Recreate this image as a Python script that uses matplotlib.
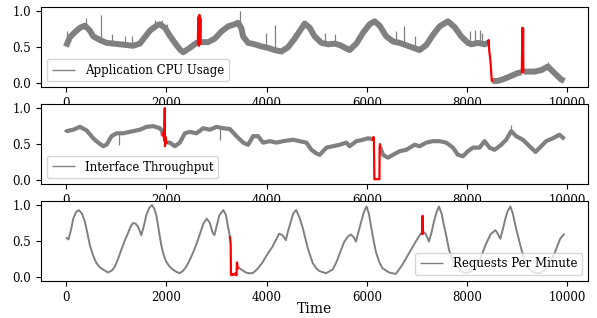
import numpy as np
import matplotlib
matplotlib.use("Agg")
import matplotlib.pyplot as plt

plt.rcParams['font.family'] = ['DejaVu Serif']

# ---------------- Application CPU Usage ----------------
cpu_t = [0, 80, 180, 279, 378, 478, 545, 677, 810, 942, 1076, 1208, 1341, 1474, 1573, 1673, 1806, 1873,
         1973, 2072, 2171, 2271, 2337, 2470, 2603,
         2703, 2835, 2968, 3101, 3234, 3367, 3433, 3500, 3532, 3632, 3765, 3898, 4030, 4163, 4296, 4429,
         4562, 4695, 4761, 4861, 4960, 5093, 5226, 5359, 5458, 5657, 5790, 5923, 6056, 6155, 6255, 6388,
         6521, 6653, 6853, 7052, 7185, 7317, 7450, 7616, 7749, 7882, 8015, 8081, 8214, 8347, 8415,
         8546, 8612, 8745, 8878, 9011, 9080,
         9210, 9343, 9476, 9608, 9741, 9874, 9940]
cpu_v = [0.51, 0.64, 0.71, 0.77, 0.80, 0.73, 0.65, 0.60, 0.56, 0.55, 0.54, 0.53, 0.52, 0.55, 0.64, 0.73,
         0.80, 0.82, 0.77, 0.66, 0.56, 0.47, 0.43, 0.49, 0.56,
         0.57, 0.57, 0.62, 0.72, 0.79, 0.82, 0.84, 0.76, 0.65, 0.56, 0.54, 0.51, 0.49, 0.46, 0.44, 0.50,
         0.62, 0.76, 0.83, 0.77, 0.65, 0.56, 0.54, 0.55, 0.53, 0.46, 0.55, 0.70, 0.82, 0.86, 0.80, 0.65,
         0.58, 0.56, 0.51, 0.46, 0.53, 0.67, 0.79, 0.86, 0.78, 0.65, 0.56, 0.54, 0.56, 0.54, 0.56,
         0.03, 0.03, 0.06, 0.10, 0.14, 0.15,
         0.16, 0.16, 0.18, 0.23, 0.14, 0.05, 0.03]
# thin noise spikes: time, base value, tip value
cpu_spk_t = [27, 398, 690, 909, 1175, 1308, 1773, 1906, 2006, 3479, 3997, 4163, 4540, 5160, 5358,
             6587, 6733, 6952, 8050, 8150, 8250, 8300, 9620]
cpu_spk_lo = [0.55, 0.78, 0.58, 0.55, 0.53, 0.52, 0.76, 0.80, 0.72, 0.80, 0.50, 0.46, 0.58, 0.55, 0.55,
              0.57, 0.54, 0.48, 0.55, 0.55, 0.55, 0.55, 0.22]
cpu_spk_hi = [0.72, 0.90, 0.95, 0.68, 0.66, 0.65, 0.88, 0.88, 0.82, 1.00, 0.70, 0.81, 0.70, 0.70, 0.68,
              0.72, 0.79, 0.65, 0.72, 0.74, 0.74, 0.70, 0.29]
cpu_anom_t = [[2630, 2640, 2650, 2660, 2670, 2680, 2685],
              [8420, 8427, 8440, 8450, 8465, 8475, 8490, 8500],
              [9090, 9100, 9105, 9115, 9120]]
cpu_anom_v = [[0.56, 0.92, 0.52, 0.95, 0.54, 0.90, 0.58],
              [0.56, 0.60, 0.45, 0.39, 0.30, 0.20, 0.03, 0.03],
              [0.15, 0.77, 0.16, 0.76, 0.16]]

# ---------------- Interface Throughput ----------------
thr_t = [0, 13, 146, 279, 412, 545, 644, 744, 810, 910, 1010, 1142, 1275, 1474, 1607, 1740, 1873, 1920,
         2072, 2171, 2271, 2370, 2470, 2603, 2736, 2869, 3002, 3135, 3267, 3400, 3533, 3632, 3732, 3831,
         3931, 4064, 4197, 4329, 4529, 4662, 4795, 4894, 4993, 5060, 5126, 5193, 5325, 5458, 5591, 5657,
         5790, 5923, 6023, 6110,
         6321, 6421, 6521, 6653, 6786, 6952, 7052, 7185, 7317, 7450, 7583, 7716, 7816, 7915, 8015, 8114,
         8247, 8347, 8446, 8546, 8679, 8778, 8878, 8977, 9110, 9243, 9363, 9476, 9575, 9708, 9841, 9940]
thr_v = [0.66, 0.68, 0.70, 0.74, 0.69, 0.58, 0.52, 0.47, 0.49, 0.61, 0.65, 0.65, 0.67, 0.70, 0.74, 0.75,
         0.72, 0.68,
         0.52, 0.47, 0.52, 0.65, 0.67, 0.65, 0.72, 0.70, 0.74, 0.72, 0.71, 0.61, 0.52, 0.49, 0.61, 0.61,
         0.52, 0.54, 0.52, 0.54, 0.56, 0.54, 0.52, 0.42, 0.37, 0.35, 0.40, 0.45, 0.47, 0.49, 0.52, 0.47,
         0.54, 0.56, 0.58, 0.57,
         0.35, 0.31, 0.35, 0.40, 0.42, 0.49, 0.47, 0.52, 0.54, 0.54, 0.52, 0.45, 0.35, 0.33, 0.40, 0.45,
         0.45, 0.54, 0.45, 0.42, 0.49, 0.56, 0.68, 0.61, 0.56, 0.47, 0.39, 0.47, 0.54, 0.58, 0.63, 0.57]
thr_spk_t = [1060, 3068, 8878]
thr_spk_lo = [0.65, 0.73, 0.66]
thr_spk_hi = [0.49, 0.55, 0.76]
thr_anom_t = [[1930, 1945, 1960, 1970, 1975, 1985, 1995, 2010],
              [6122, 6130, 6140, 6150, 6200, 6250, 6255, 6262, 6270]]
thr_anom_v = [[0.62, 0.66, 0.55, 1.00, 0.47, 0.60, 0.55, 0.52],
              [0.56, 0.60, 0.55, 0.01, 0.01, 0.01, 0.45, 0.50, 0.45]]

# ---------------- Requests Per Minute ----------------
req_t = [0, 50, 100, 146, 200, 258, 320, 377, 430, 477, 540, 609, 680, 742, 841, 920, 974, 1040, 1106,
         1170, 1238, 1290, 1338, 1390, 1437, 1503, 1550, 1603, 1660, 1715, 1760, 1801, 1850, 1901, 1950,
         2000, 2070, 2132, 2200, 2265, 2330, 2397, 2460, 2530, 2600, 2662, 2740, 2808, 2870, 2927, 2960,
         3010, 3060, 3139, 3190, 3225, 3260,
         3457, 3520, 3589, 3650, 3722, 3790, 3854, 3920, 3987, 4050, 4119, 4190, 4252, 4318, 4384, 4430,
         4483, 4530, 4590, 4660, 4722, 4821, 4921, 4990, 5053, 5185, 5318, 5390, 5450, 5550, 5620, 5682,
         5740, 5781, 5830, 5880, 5940, 5993, 6040, 6079, 6130, 6179, 6250, 6311, 6444, 6576, 6640, 6709,
         6841, 6974, 7073,
         7172, 7238, 7290, 7338, 7390, 7437, 7490, 7536, 7590, 7636, 7700, 7768, 7870, 7967, 8060, 8166,
         8260, 8364, 8464, 8563, 8610, 8662, 8710, 8762, 8810, 8861, 8910, 8960, 9030, 9093, 9160, 9225,
         9300, 9391, 9470, 9556, 9650, 9755, 9854, 9940]
req_v = [0.55, 0.52, 0.65, 0.81, 0.90, 0.93, 0.88, 0.77, 0.60, 0.44, 0.30, 0.19, 0.13, 0.10, 0.06, 0.09,
         0.14, 0.25, 0.38, 0.50, 0.61, 0.70, 0.75, 0.74, 0.70, 0.58, 0.70, 0.86, 0.96, 1.00, 0.95, 0.86,
         0.65, 0.44, 0.30, 0.21, 0.14, 0.10, 0.07, 0.05, 0.08, 0.14, 0.22, 0.33, 0.45, 0.58, 0.74, 0.81,
         0.75, 0.61, 0.58, 0.72, 0.86, 0.93, 0.86, 0.72, 0.60,
         0.12, 0.09, 0.06, 0.05, 0.05, 0.09, 0.14, 0.20, 0.28, 0.35, 0.42, 0.52, 0.60, 0.58, 0.51, 0.64,
         0.77, 0.88, 0.93, 0.82, 0.68, 0.40, 0.19, 0.12, 0.08, 0.05, 0.10, 0.20, 0.31, 0.49, 0.56, 0.59,
         0.55, 0.49, 0.62, 0.75, 0.90, 0.98, 0.88, 0.72, 0.52, 0.35, 0.20, 0.12, 0.06, 0.04, 0.10, 0.17,
         0.33, 0.49, 0.60,
         0.60, 0.49, 0.62, 0.77, 0.90, 0.98, 0.88, 0.72, 0.55, 0.38, 0.25, 0.17, 0.08, 0.05, 0.07, 0.12,
         0.25, 0.44, 0.59, 0.65, 0.60, 0.53, 0.66, 0.81, 0.92, 0.98, 0.88, 0.72, 0.52, 0.35, 0.20, 0.12,
         0.07, 0.05, 0.06, 0.10, 0.20, 0.35, 0.53, 0.60]
req_spk_t = []
req_spk_lo = []
req_spk_hi = []
req_anom_t = [[3270, 3285, 3290, 3310, 3330, 3350, 3380, 3400, 3410, 3420, 3430],
              [7095, 7105, 7110, 7115, 7125]]
req_anom_v = [[0.55, 0.45, 0.03, 0.02, 0.04, 0.03, 0.05, 0.02, 0.20, 0.15, 0.12],
              [0.60, 0.62, 0.85, 0.60, 0.62]]

labels = ['Application CPU Usage', 'Interface Throughput', 'Requests Per Minute']
legend_locs = ['lower left', 'lower left', 'lower right']
line_widths = [4.3, 3.0, 1.4]

series = [(cpu_t, cpu_v, cpu_spk_t, cpu_spk_lo, cpu_spk_hi, cpu_anom_t, cpu_anom_v),
          (thr_t, thr_v, thr_spk_t, thr_spk_lo, thr_spk_hi, thr_anom_t, thr_anom_v),
          (req_t, req_v, req_spk_t, req_spk_lo, req_spk_hi, req_anom_t, req_anom_v)]

fig, axes = plt.subplots(3, 1, figsize=(5.97, 3.18), dpi=100)
fig.subplots_adjust(left=0.0687, right=0.985, top=0.978, bottom=0.116, hspace=0.205)

for ax, (t, v, st, slo, shi, at, av), lab, loc, lw in zip(axes, series, labels, legend_locs, line_widths):
    # gray trace: normal points plus anomaly end points; interior anomaly points break the gray line
    ts = [np.asarray(t, float)]
    vs = [np.asarray(v, float)]
    for a_t, a_v in zip(at, av):
        a_t = np.asarray(a_t, float)
        a_v = np.asarray(a_v, float).copy()
        a_v[1:-1] = np.nan
        ts.append(a_t)
        vs.append(a_v)
    all_t = np.concatenate(ts)
    all_v = np.concatenate(vs)
    order = np.argsort(all_t, kind='stable')
    ax.plot(all_t[order], all_v[order], color='gray', lw=lw, label=lab,
            solid_joinstyle='round', solid_capstyle='butt')
    if len(st):
        ax.vlines(st, slo, shi, color='gray', lw=0.9)
    for a_t, a_v in zip(at, av):
        ax.plot(a_t, a_v, color='red', lw=1.6)
    ax.set_xlim(-497, 10410)
    ax.set_ylim(-0.06, 1.06)
    ax.set_xticks([0, 2000, 4000, 6000, 8000, 10000])
    ax.set_yticks([0.0, 0.5, 1.0])
    ax.tick_params(labelsize=8.5, length=3.5)
    leg = ax.legend(loc=loc, fontsize=8.5)
    for h in leg.legend_handles:
        h.set_linewidth(1.0)

axes[-1].set_xlabel('Time', fontsize=10, labelpad=-1)

fig.savefig('out.png', dpi=100)
